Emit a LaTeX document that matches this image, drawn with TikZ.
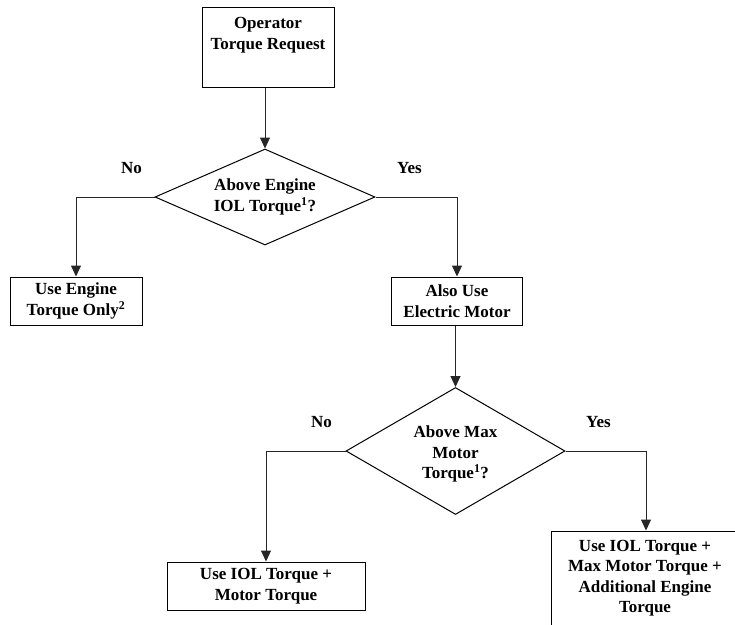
\documentclass[tikz,border=0pt]{standalone}
\usepackage{fontspec}
\setmainfont{Liberation Serif}
\usetikzlibrary{shapes.geometric,arrows.meta}
\begin{document}
\begin{tikzpicture}[x=1pt,y=-1pt,
  every node/.style={font=\fontsize{17}{20.5}\selectfont\bfseries, text=black},
  procbox/.style={draw=black, line width=1pt, rectangle, inner sep=0pt, align=center},
  decision/.style={draw=black, line width=1pt, diamond, inner sep=0pt, align=center},
  flow/.style={draw=black!85, line width=1pt, -{Triangle[length=11pt,width=10pt]}},
  lbl/.style={inner sep=0pt}
]
\useasboundingbox (0,0) rectangle (735,624);
\clip (0,0) rectangle (735,624);
\fill[white] (0,0) rectangle (735,624);

% nodes
\node[procbox, minimum width=132pt, minimum height=80pt] (req) at (268,47) {};
\node[inner sep=0pt, align=center] (reqtext) at (268,35) {Operator\\Torque Request};

\node[decision, minimum width=220pt, minimum height=96pt, aspect=2.3] (d1) at (265,197)
  {Above Engine\\IOL Torque\textsuperscript{1}?};

\node[procbox, minimum width=132pt, minimum height=48pt] (eng) at (76,301)
  {Use Engine\\Torque Only\textsuperscript{2}};

\node[procbox, minimum width=131pt, minimum height=48pt] (also) at (457,301)
  {Also Use\\Electric Motor};

\node[decision, minimum width=219pt, minimum height=127pt, aspect=1.72] (d2) at (455.5,451) {};
\node[inner sep=0pt, align=center] (d2text) at (455.5,454)
  {Above Max\\Motor\\Torque\textsuperscript{1}?};

\node[procbox, minimum width=198pt, minimum height=48pt] (iolm) at (266,586)
  {Use IOL Torque +\\Motor Torque};

\node[procbox, minimum width=190pt, minimum height=100pt] (full) at (646,581) {};
\node[inner sep=0pt, align=center] (fulltext) at (645,578)
  {Use IOL Torque +\\Max Motor Torque +\\Additional Engine\\Torque};

% labels
\node[lbl] (no1) at (131.5,168) {No};
\node[lbl] (yes1) at (409.5,168) {Yes};
\node[lbl] (no2) at (321.5,422) {No};
\node[lbl] (yes2) at (598.5,422) {Yes};

% connectors
\draw[flow] (d1.north |- req.south) -- (d1.north);
\draw[flow] (d1.west) -| (eng.north);
\draw[flow] (d1.east) -| (also.north);
\draw[flow] (d2.north |- also.south) -- (d2.north);
\draw[flow] (d2.west) -| (iolm.north);
\draw[flow] (d2.east) -| (full.north);
\end{tikzpicture}
\end{document}
